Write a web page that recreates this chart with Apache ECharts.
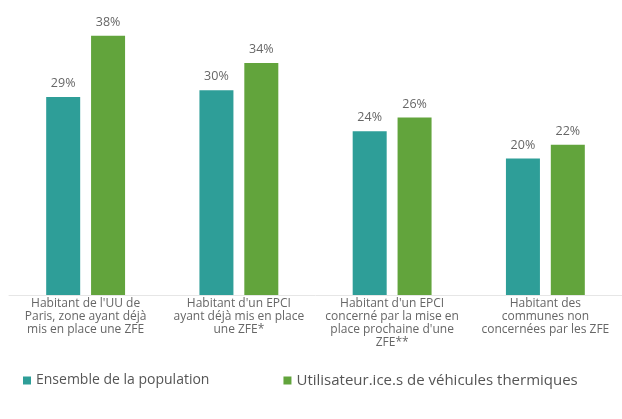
<!DOCTYPE html>
<html>
<head>
<meta charset="utf-8">
<script src="https://cdn.jsdelivr.net/npm/echarts@6/dist/echarts.min.js"></script>
<style>
  html, body { margin: 0; padding: 0; background: #fff; }
  #result { width: 622px; height: 419px; }
</style>
</head>
<body>
<div id="result"></div>
<script>
// catégories et valeurs (en %)
var categories = [
    "Habitant de l'UU de\nParis, zone ayant déjà\nmis en place une ZFE",
    "Habitant d'un EPCI\nayant déjà mis en place\nune ZFE*",
    "Habitant d'un EPCI\nconcerné par la mise en\nplace prochaine d'une\nZFE**",
    "Habitant des\ncommunes non\nconcernées par les ZFE"
];
var seriesNames = ['Ensemble de la population', 'Utilisateur.ice.s de véhicules thermiques'];
var ensemble = [29, 30, 24, 20];
var thermiques = [38, 34, 26, 22];

var labelStyle = {
    show: true,
    position: 'top',
    distance: 7,
    color: '#666',
    fontSize: 12.5,
    fontFamily: 'Open Sans',
    formatter: '{c}%'
};

var option = {
    animation: false,
    // ---- légende ----
    legend: {
        bottom: 26,
        left: 18,
        itemWidth: 8,
        itemHeight: 8,
        itemGap: 74,
        icon: 'rect',
        formatter: function (name) {
            return name === seriesNames[0] ? '{a|' + name + '}' : '{b|' + name + '}';
        },
        textStyle: {
            color: '#555',
            fontSize: 14,
            fontFamily: 'Open Sans',
            rich: {
                a: { fontSize: 14, color: '#555', fontFamily: 'Open Sans' },
                b: { fontSize: 15, color: '#555', fontFamily: 'Open Sans' }
            }
        },
        data: seriesNames
    },
    grid: {
        left: 9,
        right: -7,
        top: 22,
        bottom: 124,
        containLabel: false
    },
    xAxis: {
        type: 'category',
        data: categories,
        axisLine: { lineStyle: { color: '#e6e6e6', width: 1 } },
        axisTick: { show: false },
        axisLabel: {
            interval: 0,
            margin: 2,
            color: '#666',
            fontSize: 12,
            lineHeight: 13,
            fontFamily: 'Open Sans'
        }
    },
    yAxis: {
        type: 'value',
        show: false,
        min: 0,
        max: 40,
        splitLine: { show: false }
    },
    series: [
        {
            name: seriesNames[0],
            type: 'bar',
            barWidth: 34,
            barGap: '32%',
            itemStyle: { color: '#2e9e98' },
            label: labelStyle,
            data: ensemble
        },
        {
            name: seriesNames[1],
            type: 'bar',
            barWidth: 34,
            itemStyle: { color: '#62a43c' },
            label: labelStyle,
            data: thermiques
        }
    ]
};
var myResult = echarts.init(document.getElementById('result'));
myResult.setOption(option);
</script>
</body>
</html>
